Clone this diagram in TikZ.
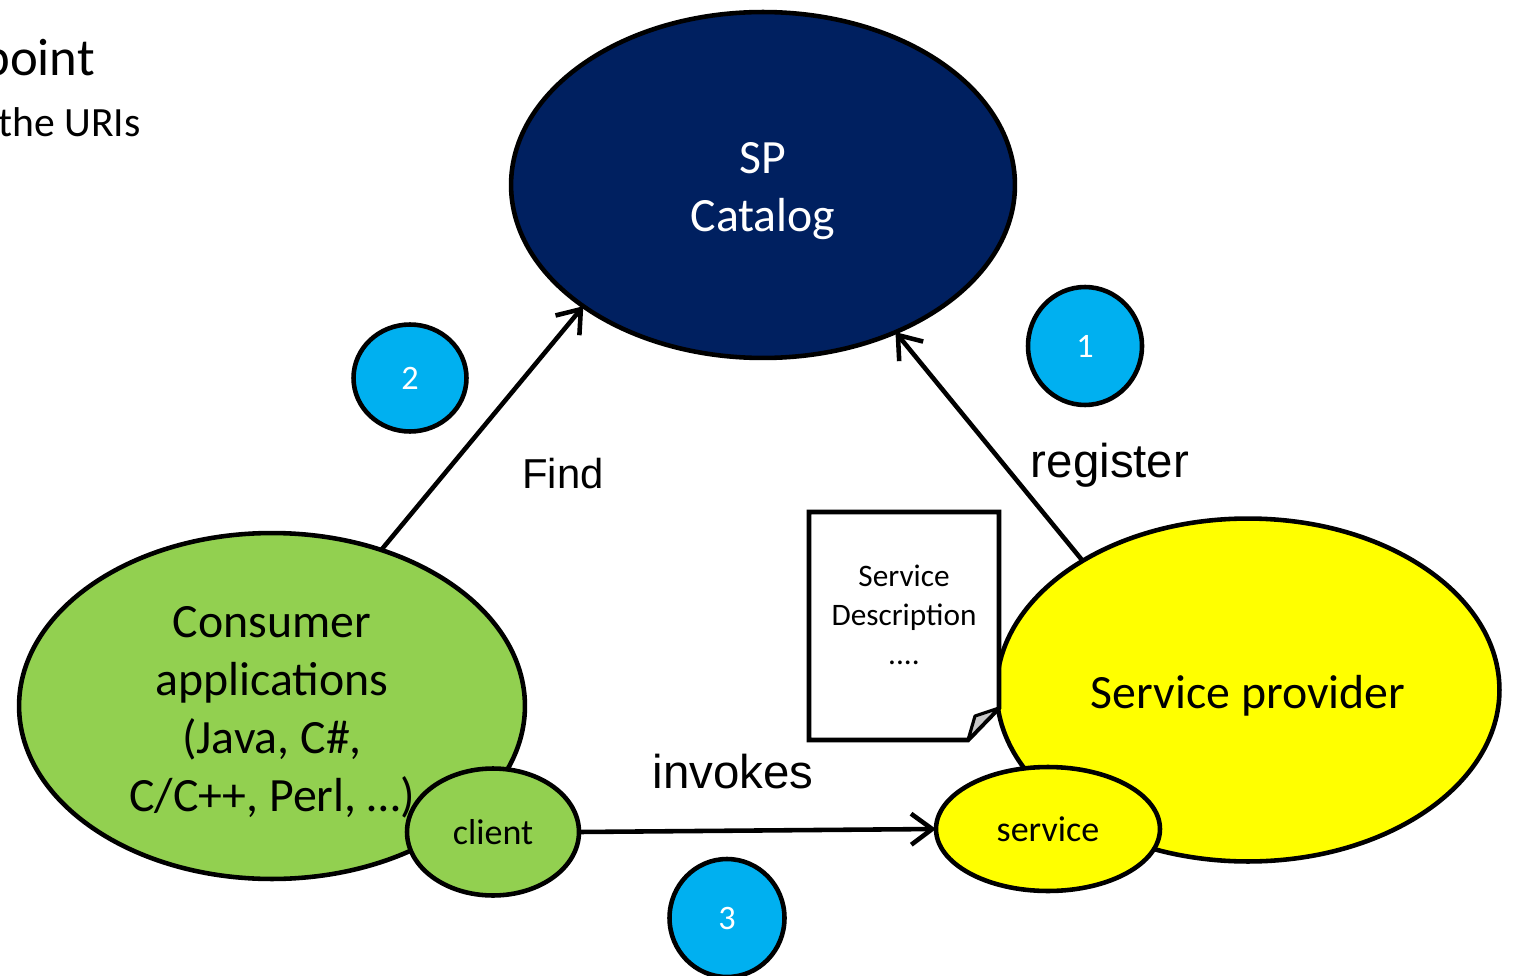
\documentclass[tikz,border=0pt]{standalone}
\usepackage{fontspec}
\setmainfont{Carlito}
\newfontfamily\labelfont{Liberation Sans}
\usetikzlibrary{arrows.meta,shapes.geometric}
\definecolor{catnavy}{HTML}{002060}
\definecolor{consgreen}{HTML}{92D050}
\definecolor{provyellow}{HTML}{FFFF00}
\definecolor{badgeblue}{HTML}{00B0F0}
\definecolor{foldgray}{HTML}{C8C8C8}
\begin{document}
\begin{tikzpicture}[x=0.02cm,y=-0.02cm,
  blob/.style={ellipse,draw=black,line width=2.6pt,inner sep=0pt,outer sep=0pt},
  badge/.style={blob,fill=badgeblue,text=white,font=\fontsize{19.5}{23}\selectfont},
  bigtext/.style={font=\fontsize{27.2}{33}\selectfont,align=center},
  smalltext/.style={font=\fontsize{20.5}{25}\selectfont},
  flow/.style={line width=2.6pt,-{Straight Barb[length=0.42cm,width=0.62cm]}},
  verb/.style={font=\labelfont\fontsize{27}{32}\selectfont,inner sep=0pt,anchor=base},
  heading/.style={inner sep=0pt,anchor=base west}
]
\useasboundingbox (0,0) rectangle (1514,976);
\clip (0,0) rectangle (1514,976);

% partial heading lines at the top left
\node[heading,font=\fontsize{30}{36}\selectfont] (h1) at (-18,76) {point};
\node[heading,font=\fontsize{23.7}{28}\selectfont] (h2) at (-2,137) {the URIs};

% catalog
\node[blob,fill=catnavy,minimum width=10.08cm,minimum height=6.92cm] (cat) at (763,185) {};
\node[bigtext,text=white] (catlbl) at (763,191) {SP\\Catalog};

% consumer side
\node[blob,fill=consgreen,minimum width=10.12cm,minimum height=6.92cm] (cons) at (272,706) {};
\node[bigtext] (conslbl) at (272,712) {Consumer\\applications\\(Java, C\#,\\C/C++, Perl, …)};
\node[blob,fill=consgreen,minimum width=3.44cm,minimum height=2.54cm,smalltext] (client) at (493,832) {client};

% provider side
\node[blob,fill=provyellow,minimum width=10.06cm,minimum height=6.86cm] (sp) at (1248,690) {};
\node[bigtext,anchor=base] (splbl) at (1248,708) {Service provider};
\node[blob,fill=provyellow,minimum width=4.48cm,minimum height=2.48cm,smalltext] (service) at (1048,829) {service};

% service description sheet with a folded corner
\draw[line width=2.6pt,fill=white,line join=miter] (809,512) -- (999,512) -- (999,708) -- (968,740) -- (809,740) -- cycle;
\draw[line width=1.8pt,fill=foldgray,line join=round] (999,708) -- (975,716) -- (968,740) -- cycle;
\node[font=\fontsize{17.8}{22.1}\selectfont,align=center] (desc) at (904,615) {Service\\Description\\....};

% step badges
\node[badge,minimum width=2.26cm,minimum height=2.14cm] (b2) at (410,378) {2};
\node[badge,minimum width=2.28cm,minimum height=2.36cm] (b1) at (1085,346) {1};
\node[badge,minimum width=2.3cm,minimum height=2.36cm] (b3) at (727,918) {3};

% interactions
\draw[flow] (cons.55.3) -- (cat.214.6);
\draw[flow] (sp.142.7) -- (cat.312.6);
\draw[flow] (client.east) -- (service.west);

\node[verb,font=\labelfont\fontsize{23.8}{28}\selectfont] (find) at (563,488) {Find};
\node[verb] (reg) at (1110,477) {register};
\node[verb] (inv) at (733,788) {invokes};
\end{tikzpicture}
\end{document}
